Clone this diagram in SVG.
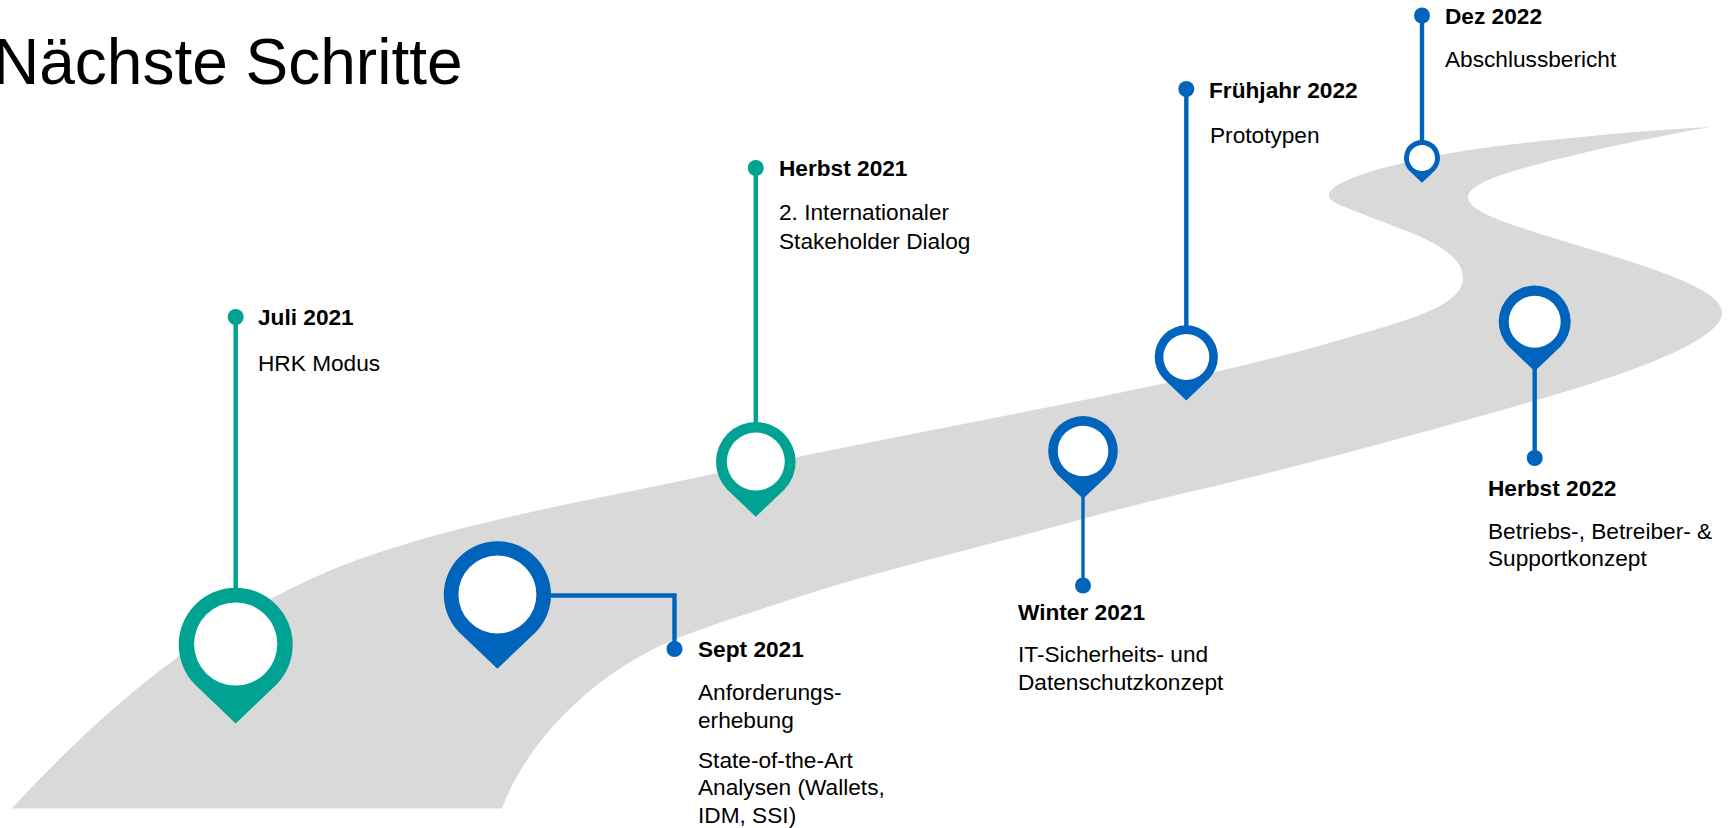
<svg xmlns="http://www.w3.org/2000/svg" width="1731" height="828" viewBox="0 0 1731 828">
<style>
text{font-family:"Liberation Sans",Arial,sans-serif;font-size:22.67px;fill:#000}
.b{font-weight:700}
.title{font-size:64px}
.road{fill:#d9d9d9}
.teal{fill:#00a291}
.blue{fill:#0063bc}
.lt{stroke:#00a291;stroke-width:4.400;fill:none}
.lb{stroke:#0063bc;stroke-width:4.400;fill:none}
.thin{stroke-width:3.400}
.hole{fill:#fff}
</style>
<defs>
<path id="pin" d="M-0.72 0.69A1 1 0 1 1 0.72 0.69L0 1.375Z"/>
</defs>
<rect width="1731" height="828" fill="#fff"/>
<text class="title" x="-7" y="84">Nächste Schritte</text>
<path id="road" class="road" d="M12 808.500C67 748 128 693 178 657C238 614 297 582 357 560C457 524 580 502 680 481C850 445 1000 418 1166 383C1230 369 1300 352 1350 337C1420 317 1463 303 1463 278C1463 245 1395 228 1360 213C1340 205 1329 202 1329 195C1329 180 1400 160 1483 148C1560 138 1650 130 1710 127C1650 138 1580 152 1517 170C1490 178 1468 187 1468 197C1468 215 1530 230 1583 247C1660 270 1722 290 1722 313C1722 335 1660 365 1537 400C1450 425 1370 447 1280 470C1215 487 1150 500 1086 518C980 548 880 570 795 598C750 613 710 625 673 640C590 675 525 745 502 808.500Z"/>
<g id="connectors">
<path class="lt" d="M235.700 317V590"/>
<path class="lt" d="M755.800 168V425"/>
<path class="lb" d="M551 595.500H674.500V649"/>
<path class="lb thin" d="M1083 495V585"/>
<path class="lb" d="M1186.300 89V328"/>
<path class="lb" d="M1422 15V142"/>
<path class="lb" d="M1534.700 365V458"/>
</g>
<g id="juli-2021">
<use href="#pin" class="teal" transform="translate(235.700 645) scale(57)"/><circle class="hole" cx="235.700" cy="644" r="41.600"/>
<circle class="teal" cx="235.700" cy="317" r="8"/>
<text class="b" x="258" y="325">Juli 2021</text><text x="258" y="371">HRK Modus</text>
</g>
<g id="sept-2021">
<use href="#pin" class="blue" transform="translate(497.400 595) scale(53.600)"/><circle class="hole" cx="497.400" cy="594.500" r="39"/>
<circle class="blue" cx="674.500" cy="649" r="8"/>
<text class="b" x="698" y="657">Sept 2021</text><text x="698" y="700">Anforderungs-</text><text x="698" y="728">erhebung</text><text x="698" y="768">State-of-the-Art</text><text x="698" y="795">Analysen (Wallets,</text><text x="698" y="823">IDM, SSI)</text>
</g>
<g id="herbst-2021">
<use href="#pin" class="teal" transform="translate(755.800 462) scale(39.800)"/><circle class="hole" cx="755.800" cy="461.500" r="29"/>
<circle class="teal" cx="755.800" cy="168" r="8"/>
<text class="b" x="779" y="176">Herbst 2021</text><text x="779" y="220">2. Internationaler</text><text x="779" y="249">Stakeholder Dialog</text>
</g>
<g id="winter-2021">
<use href="#pin" class="blue" transform="translate(1083 451) scale(34.800)"/><circle class="hole" cx="1083" cy="451" r="25.300"/>
<circle class="blue" cx="1083" cy="585.500" r="8"/>
<text class="b" x="1018" y="620">Winter 2021</text><text x="1018" y="662">IT-Sicherheits- und</text><text x="1018" y="690">Datenschutzkonzept</text>
</g>
<g id="fruehjahr-2022">
<use href="#pin" class="blue" transform="translate(1186.300 357) scale(31.600)"/><circle class="hole" cx="1186.300" cy="357" r="23"/>
<circle class="blue" cx="1186.300" cy="89" r="8"/>
<text class="b" x="1209" y="98">Frühjahr 2022</text><text x="1210" y="143">Prototypen</text>
</g>
<g id="dez-2022">
<use href="#pin" class="blue" transform="translate(1422 158) scale(18)"/><circle class="hole" cx="1422" cy="158" r="13"/>
<circle class="blue" cx="1422" cy="15.500" r="8"/>
<text class="b" x="1445" y="23.500">Dez 2022</text><text x="1445" y="67">Abschlussbericht</text>
</g>
<g id="herbst-2022">
<use href="#pin" class="blue" transform="translate(1534.700 321.700) scale(36)"/><circle class="hole" cx="1534.700" cy="321.700" r="26"/>
<circle class="blue" cx="1534.700" cy="458" r="8"/>
<text class="b" x="1488" y="496">Herbst 2022</text><text x="1488" y="539">Betriebs-, Betreiber- &amp;</text><text x="1488" y="566">Supportkonzept</text>
</g>
</svg>
